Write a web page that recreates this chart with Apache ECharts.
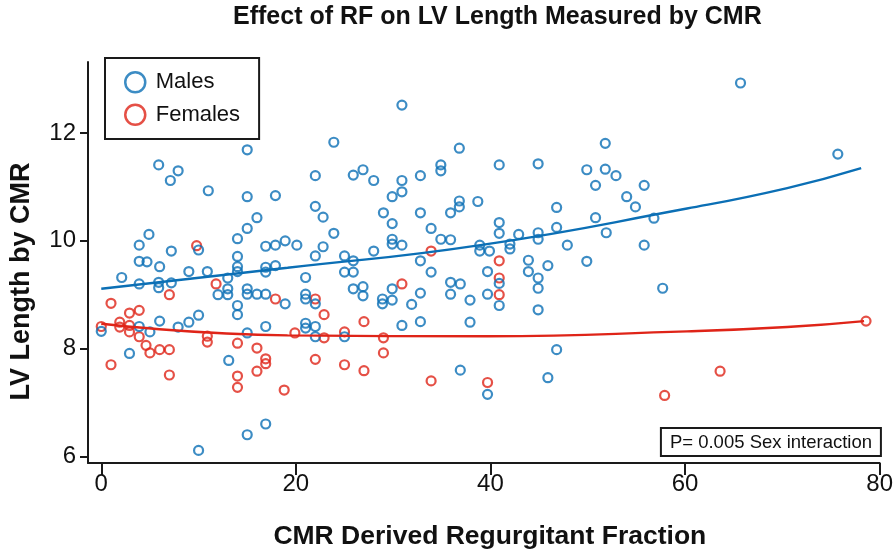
<!DOCTYPE html>
<html>
<head>
<meta charset="utf-8">
<script src="https://cdn.jsdelivr.net/npm/echarts@6/dist/echarts.min.js"></script>
<style>html,body{margin:0;padding:0;background:#fff}#c{width:896px;height:555px}</style>
</head>
<body>
<div id="c"></div>
<script>
// ---- data ----
const xTicks = [0, 20, 40, 60, 80];
const yTicks = [6, 8, 10, 12];

const malesRF = [0.0,2.1,2.9,3.9,3.9,3.9,3.9,4.7,4.9,5.0,5.9,6.0,5.9,5.9,6.0,7.1,7.2,7.2,7.9,7.9,9.0,9.0,10.0,10.0,10.0,11.0,10.9,12.0,13.0,13.0,13.0,13.1,14.0,14.0,14.0,14.0,14.0,14.0,15.0,15.0,15.0,15.0,15.0,15.0,15.0,16.0,16.0,16.9,16.9,16.9,16.9,16.9,16.9,17.9,17.9,17.9,18.9,18.9,20.1,21.0,21.0,21.0,21.0,21.0,22.0,22.0,22.0,22.0,22.0,22.0,22.8,22.8,23.9,23.9,25.0,25.0,25.0,25.9,25.9,25.9,25.9,26.9,26.9,26.9,28.0,28.0,29.0,28.9,28.9,29.9,29.9,29.9,29.9,29.9,29.9,30.9,30.9,30.9,30.9,30.9,31.9,32.8,32.8,32.8,32.8,32.8,33.9,33.9,34.9,34.9,34.9,35.9,35.9,35.9,35.9,36.8,36.8,36.8,36.9,36.9,37.9,37.9,38.7,38.9,38.9,39.7,39.7,39.7,39.9,40.9,40.9,40.9,40.9,40.9,42.0,42.0,42.9,43.9,43.9,44.9,44.9,44.9,44.9,44.9,44.9,45.9,45.9,46.8,46.8,46.8,47.9,49.9,49.9,50.8,50.8,51.8,51.8,51.9,52.9,54.0,54.9,55.8,55.8,56.8,57.7,65.7,75.7];
const malesLV = [8.32,9.32,7.91,9.92,9.62,9.20,8.41,9.61,10.12,8.31,11.41,9.52,9.23,9.13,8.51,11.12,9.81,9.22,11.30,8.40,9.43,8.49,9.83,8.62,6.11,10.93,9.43,9.00,9.31,9.11,9.00,7.78,10.04,9.71,9.52,9.43,8.80,8.63,11.69,10.82,10.23,9.11,9.01,8.29,6.40,10.43,9.01,9.90,9.51,9.42,9.01,8.41,6.60,10.84,9.92,9.54,10.00,8.83,9.92,9.32,9.01,8.92,8.47,8.38,11.21,10.64,9.72,8.83,8.41,8.22,10.44,9.89,11.83,10.14,9.72,9.42,8.22,11.22,9.63,9.42,9.11,11.32,9.15,8.98,11.12,9.81,10.52,8.92,8.83,10.82,10.32,10.03,9.94,9.11,8.90,12.52,11.12,10.91,9.92,8.43,8.82,11.21,10.52,9.63,9.03,8.50,10.23,9.42,11.41,11.30,10.03,10.52,10.02,9.23,9.01,11.72,10.74,10.63,9.20,7.60,8.90,8.49,10.73,9.92,9.81,9.43,9.01,7.15,9.81,11.41,10.34,10.14,9.21,8.80,9.94,9.85,10.12,9.64,9.43,11.43,10.15,10.03,9.31,9.12,8.72,9.54,7.46,10.62,10.25,7.98,9.92,11.32,9.62,11.03,10.43,11.81,11.33,10.15,11.21,10.82,10.63,11.03,9.92,10.42,9.12,12.93,11.61];

const femalesRF = [0.0,1.0,1.0,1.9,1.9,2.9,2.9,2.9,3.9,3.9,4.6,5.0,6.0,7.0,7.0,7.0,9.8,10.9,10.9,11.8,14.0,14.0,14.0,16.0,16.0,16.9,16.9,17.9,18.8,19.9,22.0,22.0,22.9,22.9,25.0,25.0,27.0,27.0,29.0,29.0,30.9,33.9,33.9,39.7,40.9,40.9,40.9,57.9,63.6,78.6];
const femalesLV = [8.41,8.84,7.70,8.49,8.40,8.66,8.43,8.31,8.71,8.22,8.06,7.92,7.98,9.00,7.98,7.51,9.91,8.23,8.12,9.20,8.10,7.49,7.28,8.01,7.58,7.81,7.72,8.92,7.23,8.29,8.92,7.80,8.63,8.20,8.31,7.70,8.50,7.59,8.20,7.92,9.20,9.81,7.40,7.37,9.63,9.31,9.00,7.13,7.58,8.51];

// fitted curves, points
const maleFitRF = [0, 19.15, 38.95, 60.2, 70.5, 78.1];
const maleFitLV = [9.11, 9.50, 9.92, 10.60, 10.98, 11.35];
const femaleFitRF = [0, 19.15, 39.7, 60.2, 70.5, 78.4];
const femaleFitLV = [8.46, 8.245, 8.23, 8.32, 8.40, 8.51];

const seriesNames = ['Males', 'Females'];
const titleText = 'Effect of RF on LV Length Measured by CMR';
const xName = 'CMR Derived Regurgitant Fraction';
const yName = 'LV Length by CMR';
const noteText = 'P= 0.005 Sex interaction';

// ---- chart ----
const BLUE = '#0b6fb5';
const RED = '#df2418';
const AX = '#1a1a1a';
const FONT = '"Liberation Sans", Arial, sans-serif';
const zip = (a, b) => a.map((v, i) => [v, b[i]]);

const chart = echarts.init(document.getElementById('c'), null, {renderer: 'canvas'});
chart.setOption({
  animation: false,
  backgroundColor: '#fff',
  textStyle: {fontFamily: FONT},
  title: [
    {text: titleText, left: 233, top: 5, padding: 0,
     textStyle: {fontFamily: FONT, fontSize: 25, fontWeight: 'bold', color: '#111'}},
    {text: noteText, right: 15, top: 428, padding: [5, 9, 4, 9],
     borderColor: AX, borderWidth: 2,
     textStyle: {fontFamily: FONT, fontSize: 18.5, fontWeight: 'normal', color: '#111'}}
  ],
  legend: {
    orient: 'vertical', left: 105, top: 58,
    padding: [13, 19, 13, 19],
    borderColor: AX, borderWidth: 2,
    itemWidth: 31, itemHeight: 20, itemGap: 10,
    itemStyle: {borderWidth: 2.5},
    textStyle: {fontFamily: FONT, fontSize: 22, color: '#111'},
    data: seriesNames
  },
  grid: {left: 88, right: 15, top: 62, bottom: 90, containLabel: false},
  xAxis: {
    type: 'value', min: -1.364, max: 80,
    name: xName, nameLocation: 'middle', nameGap: 60,
    nameTextStyle: {fontFamily: FONT, fontSize: 26.5, fontWeight: 'bold', color: '#111', padding: [0, 0, 0, 12]},
    axisLine: {show: true, onZero: false, lineStyle: {color: AX, width: 2}},
    axisTick: {show: true, length: 12, lineStyle: {color: AX, width: 2}, customValues: xTicks},
    axisLabel: {fontFamily: FONT, fontSize: 24, color: '#111', margin: 9, customValues: xTicks},
    splitLine: {show: false}
  },
  yAxis: {
    type: 'value', min: 5.876, max: 13.32,
    name: yName, nameLocation: 'middle', nameGap: 53, nameRotate: 90,
    nameTextStyle: {fontFamily: FONT, fontSize: 27, fontWeight: 'bold', color: '#111', padding: [0, 38, 0, 0]},
    axisLine: {show: true, onZero: false, lineStyle: {color: AX, width: 2}},
    axisTick: {show: true, length: 8, lineStyle: {color: AX, width: 2}, customValues: yTicks},
    axisLabel: {fontFamily: FONT, fontSize: 24, color: '#111', margin: 12, customValues: yTicks},
    splitLine: {show: false}
  },
  series: [
    {name: 'Females', type: 'scatter', data: zip(femalesRF, femalesLV), symbol: 'circle', symbolSize: 9,
     itemStyle: {color: 'rgba(255,255,255,0)', borderColor: RED, borderWidth: 2.2}, z: 2},
    {name: 'Males', type: 'scatter', data: zip(malesRF, malesLV), symbol: 'circle', symbolSize: 9,
     itemStyle: {color: 'rgba(255,255,255,0)', borderColor: BLUE, borderWidth: 2.2}, z: 3},
    {name: 'Males fit', type: 'line', data: zip(maleFitRF, maleFitLV), smooth: 0.5, showSymbol: false,
     lineStyle: {color: BLUE, width: 2.4}, itemStyle: {color: BLUE}, z: 4, silent: true},
    {name: 'Females fit', type: 'line', data: zip(femaleFitRF, femaleFitLV), smooth: 0.5, showSymbol: false,
     lineStyle: {color: RED, width: 2.4}, itemStyle: {color: RED}, z: 4, silent: true}
  ]
});
</script>
</body>
</html>
